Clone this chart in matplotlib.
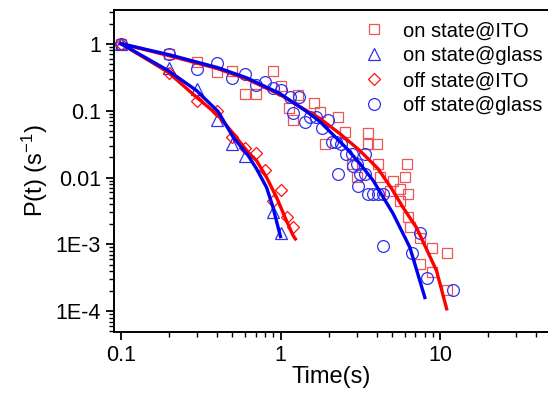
import matplotlib.pyplot as plt
import matplotlib.ticker as mticker
import numpy as np

plt.rcParams['font.family'] = ['Liberation Sans', 'DejaVu Sans']
plt.rcParams['mathtext.fontset'] = 'custom'
plt.rcParams['mathtext.rm'] = 'Liberation Sans'
plt.rcParams['mathtext.it'] = 'Liberation Sans:italic'

# on state@ITO (squares)
sq_t = [0.1, 0.2, 0.3, 0.4, 0.5, 0.6, 0.7, 0.9, 1.0, 1.13, 1.2, 1.29, 1.61, 1.76, 1.9,
        2.3, 2.53, 2.79, 3.0, 3.54, 3.54, 4.0, 4.09, 4.19, 4.84, 5.08, 5.6, 5.6, 6.02,
        6.17, 6.31, 6.31, 6.47, 7.47, 7.47, 8.84, 8.84, 11.0, 11.0]
sq_p = [1.0, 0.71, 0.53, 0.376, 0.384, 0.175, 0.175, 0.388, 0.233, 0.111, 0.0718, 0.173,
        0.128, 0.0946, 0.0316, 0.0796, 0.0475, 0.016, 0.0103, 0.047, 0.0318, 0.0318,
        0.016, 0.0103, 0.00637, 0.009, 0.00682, 0.00451, 0.0103, 0.016, 0.00568, 0.0026,
        0.00181, 0.00126, 0.000514, 0.000893, 0.000381, 0.000733, 0.000206]

# on state@glass (triangles)
tri_t = [0.1, 0.2, 0.3, 0.4, 0.5, 0.6, 0.9, 1.0]
tri_p = [1.0, 0.43, 0.212, 0.073, 0.032, 0.0207, 0.003, 0.00146]

# off state@ITO (diamonds)
dia_t = [0.1, 0.2, 0.3, 0.4, 0.5, 0.6, 0.7, 0.8, 0.9, 1.0, 1.1, 1.2]
dia_p = [1.0, 0.37, 0.137, 0.097, 0.04, 0.0277, 0.023, 0.013, 0.0045, 0.0064, 0.0026, 0.00184]

# off state@glass (circles)
cir_t = [0.1, 0.2, 0.3, 0.4, 0.5, 0.6, 0.7, 0.8, 0.9, 1.0, 1.14, 1.2, 1.31, 1.42, 1.53,
         1.68, 1.81, 1.99, 2.09, 2.24, 2.41, 2.59, 2.79, 3.0, 3.38, 2.85, 3.14, 3.38, 2.3,
         3.07, 3.54, 3.81, 4.09, 4.4, 7.47, 4.4, 6.63, 8.23, 12.1]
cir_p = [1.0, 0.69, 0.42, 0.52, 0.31, 0.355, 0.245, 0.27, 0.22, 0.2, 0.157, 0.0905, 0.157,
         0.0664, 0.0789, 0.0789, 0.0558, 0.0711, 0.0336, 0.0336, 0.0318, 0.0226, 0.0226,
         0.016, 0.0226, 0.0151, 0.0113, 0.0113, 0.0113, 0.00757, 0.00568, 0.00568,
         0.00568, 0.00568, 0.00146, 0.000955, 0.000733, 0.000314, 0.000208]

# fit curves
fit_dia_t = [0.1, 0.197, 0.297, 0.407, 0.505, 0.627, 0.707, 0.817, 0.944, 1.09, 1.2, 1.24]
fit_dia_p = [1.0, 0.376, 0.159, 0.0845, 0.0454, 0.0238, 0.0179, 0.0101, 0.00506, 0.00226,
             0.00135, 0.00121]
fit_tri_t = [0.1, 0.197, 0.297, 0.406, 0.505, 0.627, 0.707, 0.817, 0.891, 0.99, 1.0]
fit_tri_p = [1.0, 0.398, 0.2, 0.097, 0.04, 0.0213, 0.0135, 0.00713, 0.0038, 0.00143, 0.00131]
fit_sq_t = [0.1, 0.202, 0.399, 0.615, 0.99, 1.455, 1.764, 2.35, 3.14, 4.09, 4.97, 5.87,
            7.12, 9.51, 11.0]
fit_sq_p = [1.0, 0.657, 0.427, 0.297, 0.174, 0.1, 0.0762, 0.0454, 0.0253, 0.0135, 0.00682,
            0.00354, 0.00178, 0.000404, 0.000109]
fit_cir_t = [0.1, 0.202, 0.399, 0.615, 0.99, 1.455, 1.764, 2.13, 2.57, 3.14, 3.81, 5.08,
             6.47, 8.03]
fit_cir_p = [1.0, 0.68, 0.442, 0.308, 0.18, 0.097, 0.0687, 0.0438, 0.028, 0.0162, 0.009,
             0.00288, 0.000902, 0.000161]

fig = plt.figure(figsize=(5.48, 3.93), dpi=100)
ax = fig.add_axes([0.208, 0.155, 0.792, 0.819])

red_light = '#ee5555'
red = '#ff1010'
blue = '#3030ee'

ax.plot(sq_t, sq_p, ls='none', marker='s', ms=7.5, mfc='none', mec=red_light, mew=0.9,
        label='on state@ITO')
ax.plot(tri_t, tri_p, ls='none', marker='^', ms=8, mfc='none', mec=blue, mew=0.9,
        label='on state@glass')
ax.plot(dia_t, dia_p, ls='none', marker='D', ms=6.5, mfc='none', mec=red, mew=0.9,
        label='off state@ITO')
ax.plot(cir_t, cir_p, ls='none', marker='o', ms=8.5, mfc='none', mec=blue, mew=0.9,
        label='off state@glass')

ax.plot(fit_dia_t, fit_dia_p, color='#ff0000', lw=2.4, solid_joinstyle='round')
ax.plot(fit_sq_t, fit_sq_p, color='#ff0000', lw=2.4, solid_joinstyle='round')
ax.plot(fit_tri_t, fit_tri_p, color='#0000f0', lw=2.4, solid_joinstyle='round')
ax.plot(fit_cir_t, fit_cir_p, color='#0000f0', lw=2.4, solid_joinstyle='round')

ax.set_xscale('log')
ax.set_yscale('log')
ax.set_xlim(0.0904, 47.5)
ax.set_ylim(4.9e-5, 3.16)

ax.yaxis.set_major_locator(mticker.FixedLocator([1e-4, 1e-3, 1e-2, 0.1, 1]))
ax.yaxis.set_major_formatter(mticker.FixedFormatter(['1E-4', '1E-3', '0.01', '0.1', '1']))
ax.yaxis.set_minor_locator(mticker.LogLocator(base=10, subs=np.arange(2, 10), numticks=20))
ax.yaxis.set_minor_formatter(mticker.NullFormatter())
ax.xaxis.set_major_locator(mticker.FixedLocator([0.1, 1, 10]))
ax.xaxis.set_major_formatter(mticker.FixedFormatter(['0.1', '1', '10']))
ax.xaxis.set_minor_locator(mticker.LogLocator(base=10, subs=np.arange(2, 10), numticks=20))
ax.xaxis.set_minor_formatter(mticker.NullFormatter())

ax.tick_params(which='major', direction='out', length=6, width=1.3, labelsize=15.5,
               top=False, right=False)
ax.tick_params(which='minor', direction='out', length=3.5, width=1.0, top=False, right=False)
for side in ['left', 'bottom', 'top']:
    ax.spines[side].set_linewidth(1.4)
ax.spines['right'].set_visible(False)

ax.set_xlabel('Time(s)', fontsize=17, labelpad=0)
ax.set_ylabel('P(t) (s$^{\\mathregular{-1}}$)', fontsize=17, labelpad=4)

ax.legend(loc='upper right', bbox_to_anchor=(1.012, 1.0), frameon=False, fontsize=14.5,
          handlelength=1.0, handletextpad=0.9, labelspacing=0.3, borderaxespad=0.25,
          borderpad=0.3)

fig.savefig('out.png', dpi=100)
